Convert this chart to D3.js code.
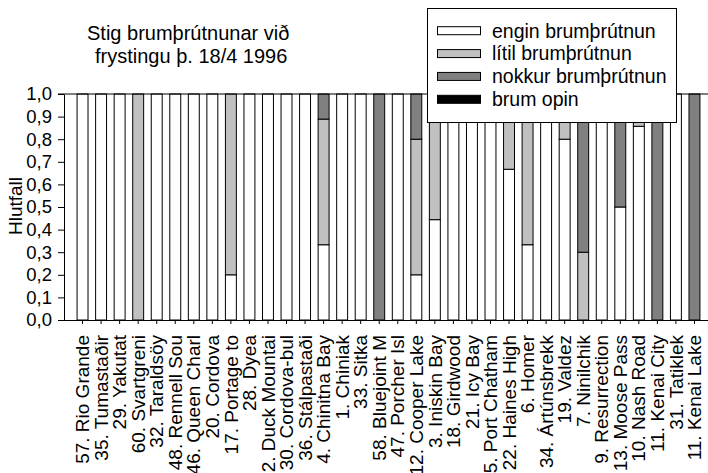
<!DOCTYPE html>
<html><head><meta charset="utf-8">
<script src="https://cdn.jsdelivr.net/npm/d3@7"></script>
<style>
body{margin:0;background:#fff;}
svg{display:block;font-family:"Liberation Sans",Arial,sans-serif;}
</style></head>
<body>
<svg id="chart" width="708" height="473"></svg>
<script>
const categories = ["57. Rio Grande","35. Tumastaðir","29. Yakutat","60. Svartgreni","32. Taraldsöy","48. Rennell Sou","46. Queen Charl","20. Cordova","17. Portage to","28. Dyea","2. Duck Mountai","30. Cordova-bul","36. Stálpastaði","4. Chinitna Bay","1. Chiniak","33. Sitka","58. Bluejoint M","47. Porcher Isl","12. Cooper Lake","3. Iniskin Bay","18. Girdwood","21. Icy Bay","5. Port Chatham","22. Haines High","6. Homer","34. Ártúnsbrekk","19. Valdez","7. Ninilchik","9. Resurrection","13. Moose Pass","10. Nash Road","11. Kenai City","31. Tatiklek","11. Kenai Lake"];
const engin  = [1,1,1,0,1,1,1,1,0.2,1,1,1,1,0.333,1,1,0,1,0.2,0.444,1,1,1,0.667,0.333,1,0.8,0,1,0.5,0.857,0,1,0];
const litil  = [0,0,0,1,0,0,0,0,0.8,0,0,0,0,0.556,0,0,0,0,0.6,0.556,0,0,0,0.333,0.667,0,0.2,0.3,0,0,0.143,0,0,0];
const nokkur = [0,0,0,0,0,0,0,0,0,0,0,0,0,0.111,0,0,1,0,0.2,0,0,0,0,0,0,0,0,0.7,0,0.5,0,1,0,1];
const opin   = [0,0,0,0,0,0,0,0,0,0,0,0,0,0,0,0,0,0,0,0,0,0,0,0,0,0,0,0,0,0,0,0,0,0];
const seriesNames = ["engin brumþrútnun","lítil brumþrútnun","nokkur brumþrútnun","brum opin"];
const seriesColors = ["#ffffff","#c0c0c0","#808080","#000000"];
const yTicks = [0,0.1,0.2,0.3,0.4,0.5,0.6,0.7,0.8,0.9,1.0];
const titleLines = ["Stig brumþrútnunar við","frystingu þ. 18/4 1996"];
const yLabel = "Hlutfall";

const svg = d3.select("#chart");
const pL = 64, pR = 713, pT = 94, pB = 320;
const keys = ["engin","litil","nokkur","opin"];
const rows = categories.map((c,i)=>({idx:i, engin:engin[i], litil:litil[i], nokkur:nokkur[i], opin:opin[i]}));
const stack = d3.stack().keys(keys)(rows);

const x = d3.scaleBand().domain(d3.range(categories.length)).range([pL,pR])
  .paddingInner(0.41).paddingOuter(0.705);
const y = d3.scaleLinear().domain([0,1]).range([pB,pT]);
const loc = d3.formatLocale({decimal:",",thousands:".",grouping:[3],currency:["",""]});
const fmt = loc.format(".1f");

// bars
stack.forEach((s,k)=>{
  svg.append("g").selectAll("rect").data(s.filter(d=>d[1]-d[0]>0)).join("rect")
    .attr("x",d=>x(d.data.idx)).attr("width",x.bandwidth())
    .attr("y",d=>y(d[1])).attr("height",d=>y(d[0])-y(d[1]))
    .attr("fill",seriesColors[k]).attr("stroke","#000").attr("stroke-width",1);
});

// top line
svg.append("line").attr("x1",pL-6).attr("x2",pR).attr("y1",y(1)).attr("y2",y(1))
  .attr("stroke","#000").attr("stroke-width",1);

// y axis
const ya = svg.append("g").attr("transform",`translate(${pL},0)`)
  .call(d3.axisLeft(y).tickValues(yTicks).tickFormat(fmt).tickSize(6).tickSizeOuter(0).tickPadding(6));
ya.selectAll("text").attr("font-size",18.5).attr("fill","#000").attr("font-family","Liberation Sans, Arial, sans-serif");
ya.selectAll("line,path").attr("stroke","#000");

// x axis
const xa = svg.append("g").attr("transform",`translate(0,${pB})`)
  .call(d3.axisBottom(x).tickFormat(i=>categories[i]).tickSize(4).tickSizeOuter(0));
xa.select(".domain").attr("d",`M${pL},0.5H${pR}`);
xa.selectAll("line,path").attr("stroke","#000");
xa.selectAll("text").attr("font-size",19).attr("fill","#000")
  .attr("font-family","Liberation Sans, Arial, sans-serif")
  .attr("text-anchor","end").attr("transform","rotate(-90)")
  .attr("x",-15).attr("y",0).attr("dy","0.35em");

// y label
svg.append("text").attr("transform","translate(22,206) rotate(-90)")
  .attr("text-anchor","middle").attr("font-size",19).text(yLabel);

// title
svg.append("text").attr("y",40).attr("font-size",20)
  .selectAll("tspan").data(titleLines).join("tspan")
  .attr("x",(d,i)=>i?95:87).attr("dy",(d,i)=>i?23:0).text(d=>d);

// legend
const lg = svg.append("g");
lg.append("rect").attr("x",427.5).attr("y",8.5).attr("width",249).attr("height",114)
  .attr("fill","#fff").attr("stroke","#000");
const ly = d3.scalePoint().domain(seriesNames).range([30.7,99.3]);
seriesNames.forEach((n,i)=>{
  lg.append("rect").attr("x",437.5).attr("y",ly(n)-4).attr("width",43).attr("height",8)
    .attr("fill",seriesColors[i]).attr("stroke","#000");
  lg.append("text").attr("x",492).attr("y",ly(n)).attr("dy","0.35em").attr("font-size",19.5).text(n);
});
</script>
</body></html>
